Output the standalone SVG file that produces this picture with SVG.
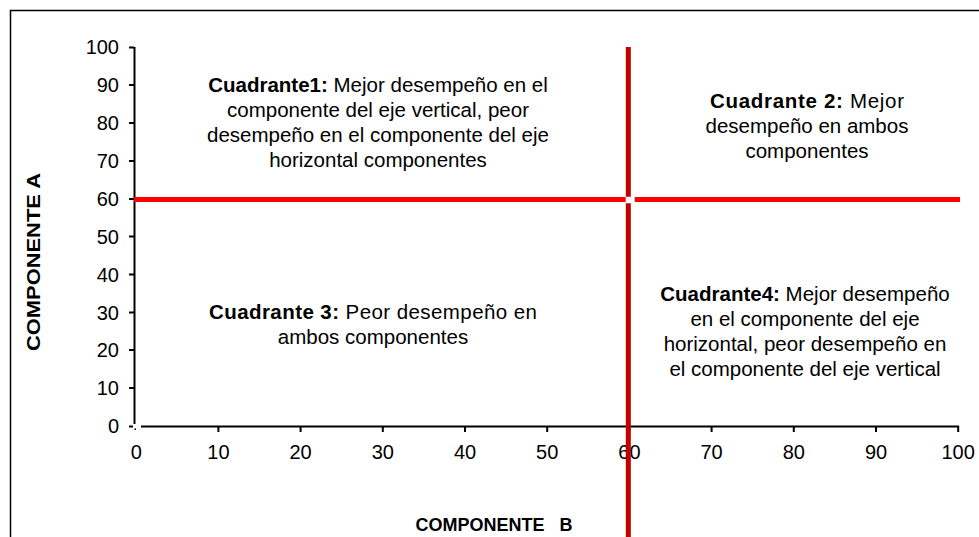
<svg xmlns="http://www.w3.org/2000/svg" width="979" height="537" viewBox="0 0 979 537">
<style>
.tick{font-family:"Liberation Sans",Arial,sans-serif;font-size:20px;fill:#000}
.q{font-family:"Liberation Sans",Arial,sans-serif;font-size:20.5px;fill:#000;text-anchor:middle}
.q tspan.b{font-weight:bold}
.title{font-family:"Liberation Sans",Arial,sans-serif;font-size:18px;font-weight:bold;fill:#000;text-anchor:middle}
.ax{stroke:#000;stroke-width:2;fill:none}
</style>
<rect width="979" height="537" fill="#fff"/>
<path d="M10.5 537 V10.5 H979" fill="none" stroke="#000" stroke-width="1.5"/>
<g id="axes">
<path class="ax" d="M134.5 47 V424 M141 426.5 H959"/>
<path class="ax" d="M129 47.5 H134 M129 85 H134 M129 123 H134 M129 161 H134 M129 199 H134 M129 236.5 H134 M129 274.5 H134 M129 312.5 H134 M129 350 H134 M129 388 H134 M129 426.5 H133"/>
<path class="ax" d="M218.4 426 V432 M300.6 426 V432 M382.8 426 V432 M465 426 V432 M547.2 426 V432 M629.4 426 V432 M711.6 426 V432 M793.8 426 V432 M876 426 V432 M958.2 426 V432"/>
<rect x="134.5" y="428.5" width="1.5" height="1.5" fill="#000"/>
</g>
<g id="y-labels" class="tick" text-anchor="end">
<text x="119" y="54">100</text>
<text x="119" y="92">90</text>
<text x="119" y="130">80</text>
<text x="119" y="168">70</text>
<text x="119" y="206">60</text>
<text x="119" y="243.5">50</text>
<text x="119" y="281.5">40</text>
<text x="119" y="319.5">30</text>
<text x="119" y="357">20</text>
<text x="119" y="395">10</text>
<text x="119" y="433">0</text>
</g>
<g id="x-labels" class="tick" text-anchor="middle">
<text x="136.2" y="459">0</text>
<text x="218.4" y="459">10</text>
<text x="300.6" y="459">20</text>
<text x="382.8" y="459">30</text>
<text x="465" y="459">40</text>
<text x="547.2" y="459">50</text>
<text x="629.4" y="459">60</text>
<text x="711.6" y="459">70</text>
<text x="793.8" y="459">80</text>
<text x="876" y="459">90</text>
<text x="958.2" y="459">100</text>
</g>
<g id="connectors">
<path d="M134 199.5 H625.7 M634.7 199.5 H960" stroke="#ff0000" stroke-width="5" fill="none"/>
<path d="M628.3 47 V196.7 M628.3 203.3 V537" stroke="#c00000" stroke-width="5" fill="none"/>
</g>
<g id="q1">
<text class="q" y="92"><tspan x="378" class="b">Cuadrante1:</tspan> Mejor desempeño en el</text>
<text class="q" x="378" y="117">componente del eje vertical, peor</text>
<text class="q" x="378" y="142">desempeño en el componente del eje</text>
<text class="q" x="378" y="167">horizontal componentes</text>
</g>
<g id="q2">
<text class="q" x="807" y="108" textLength="194" lengthAdjust="spacing"><tspan class="b">Cuadrante 2:</tspan> Mejor</text>
<text class="q" x="807" y="133">desempeño en ambos</text>
<text class="q" x="807" y="158">componentes</text>
</g>
<g id="q3">
<text class="q" x="373" y="319" textLength="328" lengthAdjust="spacing"><tspan class="b">Cuadrante 3:</tspan> Peor desempeño en</text>
<text class="q" x="373" y="344">ambos componentes</text>
</g>
<g id="q4">
<text class="q" x="805" y="301"><tspan class="b">Cuadrante4:</tspan> Mejor desempeño</text>
<text class="q" x="805" y="326">en el componente del eje</text>
<text class="q" x="805" y="351">horizontal, peor desempeño en</text>
<text class="q" x="805" y="376">el componente del eje vertical</text>
</g>
<g id="axis-titles">
<text class="title" x="494" y="531" xml:space="preserve">COMPONENTE   B</text>
<text class="title" transform="translate(40 262) rotate(-90)" x="0" y="0" font-size="19" textLength="178" lengthAdjust="spacingAndGlyphs">COMPONENTE A</text>
</g>
</svg>
